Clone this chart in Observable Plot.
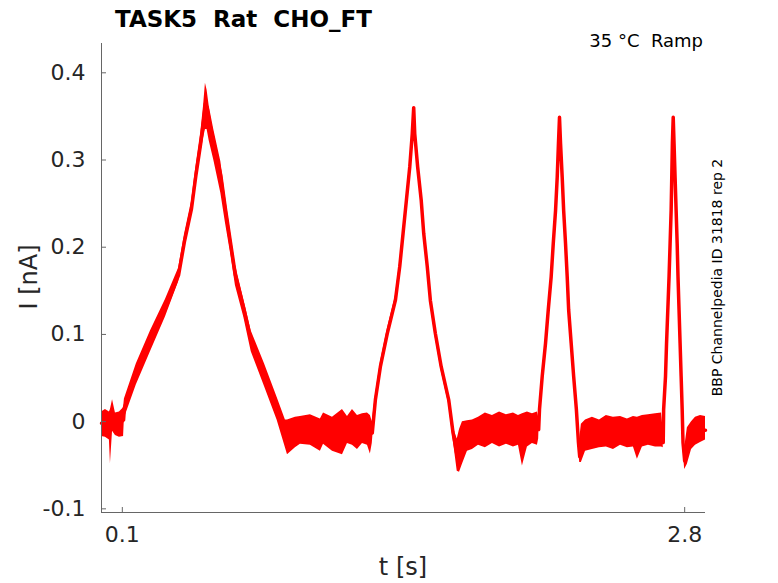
<!DOCTYPE html>
<html>
<head>
<meta charset="utf-8">
<script src="https://cdn.jsdelivr.net/npm/d3@7"></script>
<script src="https://cdn.jsdelivr.net/npm/@observablehq/plot@0.6"></script>
<style>
  html, body { margin: 0; padding: 0; background: #fff; }
  #chart svg { display: block; }
</style>
</head>
<body>
<div id="chart"></div>
<script>
// ---- data (time in s, current in nA) ----
const tSec = [
  0.000, 0.019, 0.038, 0.043, 0.053, 0.067, 0.086, 0.106,
  0.110, 0.167, 0.235, 0.307, 0.370, 0.398, 0.432, 0.453, 0.477, 0.490, 0.499, 0.507, 0.517,
  0.539, 0.573, 0.595, 0.619, 0.643, 0.683, 0.719, 0.783, 0.843, 0.883,
  0.893, 0.931, 0.955, 1.003, 1.051, 1.066, 1.109, 1.157, 1.181, 1.205, 1.229, 1.253, 1.277, 1.291,
  1.300, 1.315, 1.339, 1.372, 1.411, 1.432, 1.448, 1.464, 1.480, 1.492, 1.499, 1.504, 1.518, 1.535, 1.547, 1.564, 1.579, 1.603, 1.631, 1.667, 1.688, 1.708,
  1.719, 1.733, 1.757, 1.781, 1.810, 1.843, 1.877, 1.911, 1.944, 1.978, 2.002, 2.021, 2.045, 2.069, 2.093,
  2.099, 2.103, 2.116, 2.132, 2.145, 2.159, 2.169, 2.180, 2.188, 2.194, 2.199, 2.204, 2.212, 2.219, 2.228, 2.236, 2.243, 2.255, 2.267, 2.280, 2.290, 2.296,
  2.304, 2.324, 2.357, 2.391, 2.424, 2.458, 2.492, 2.525, 2.554, 2.573, 2.597, 2.626, 2.660, 2.689,
  2.697, 2.699, 2.708, 2.713, 2.719, 2.725, 2.730, 2.735, 2.738, 2.741, 2.745, 2.749, 2.754, 2.759, 2.764, 2.768, 2.773, 2.778, 2.783, 2.788, 2.792, 2.800,
  2.813, 2.833, 2.852, 2.876, 2.900
];
const iMid = [
  -0.002, -0.002, -0.003, -0.007, 0.005, -0.002, -0.002, 0.002,
  0.016, 0.054, 0.092, 0.130, 0.168, 0.206, 0.244, 0.282, 0.320, 0.345, 0.365, 0.360, 0.345,
  0.320, 0.282, 0.244, 0.206, 0.168, 0.130, 0.092, 0.054, 0.016, -0.015,
  -0.015, -0.011, -0.011, -0.011, -0.011, -0.010, -0.010, -0.010, -0.010, -0.009, -0.009, -0.009, -0.008, -0.009,
  -0.013, 0.025, 0.063, 0.101, 0.139, 0.178, 0.216, 0.254, 0.292, 0.330, 0.360, 0.330, 0.292, 0.254, 0.216, 0.178, 0.139, 0.101, 0.063, 0.025, -0.013, -0.040,
  -0.030, -0.022, -0.016, -0.014, -0.012, -0.011, -0.011, -0.010, -0.010, -0.009, -0.009, -0.010, -0.008, -0.008, -0.008,
  -0.009, 0.014, 0.052, 0.090, 0.128, 0.166, 0.204, 0.242, 0.280, 0.319, 0.349, 0.319, 0.280, 0.242, 0.204, 0.166, 0.128, 0.090, 0.052, 0.014, -0.024, -0.040,
  -0.020, -0.016, -0.015, -0.014, -0.013, -0.013, -0.012, -0.012, -0.012, -0.012, -0.011, -0.010, -0.010, -0.010,
  -0.024, 0.014, 0.052, 0.090, 0.128, 0.166, 0.204, 0.242, 0.280, 0.319, 0.349, 0.319, 0.280, 0.242, 0.204, 0.166, 0.128, 0.090, 0.052, 0.014, -0.024, -0.045,
  -0.030, -0.020, -0.015, -0.010, -0.010
];
const iLow = [
  -0.017, -0.018, -0.021, -0.048, -0.011, -0.016, -0.018, -0.017,
  0.004, 0.042, 0.080, 0.120, 0.160, 0.198, 0.236, 0.272, 0.308, 0.325, 0.335, 0.335, 0.322,
  0.300, 0.262, 0.228, 0.194, 0.156, 0.120, 0.080, 0.040, 0.002, -0.030,
  -0.038, -0.030, -0.026, -0.027, -0.034, -0.026, -0.034, -0.038, -0.025, -0.027, -0.032, -0.025, -0.027, -0.037,
  -0.025, 0.020, 0.058, 0.096, 0.134, 0.173, 0.211, 0.249, 0.287, 0.325, 0.350, 0.325, 0.287, 0.249, 0.211, 0.173, 0.134, 0.096, 0.058, 0.020, -0.020, -0.057,
  -0.058, -0.049, -0.034, -0.032, -0.027, -0.030, -0.025, -0.029, -0.026, -0.029, -0.027, -0.051, -0.029, -0.025, -0.027,
  -0.020, 0.009, 0.047, 0.085, 0.123, 0.161, 0.199, 0.237, 0.275, 0.314, 0.340, 0.314, 0.275, 0.237, 0.199, 0.161, 0.123, 0.085, 0.047, 0.009, -0.030, -0.047,
  -0.047, -0.034, -0.032, -0.030, -0.029, -0.032, -0.027, -0.030, -0.029, -0.043, -0.029, -0.027, -0.029, -0.029,
  -0.030, 0.009, 0.047, 0.085, 0.123, 0.161, 0.199, 0.237, 0.275, 0.314, 0.340, 0.314, 0.275, 0.237, 0.199, 0.161, 0.123, 0.085, 0.047, 0.009, -0.030, -0.055,
  -0.049, -0.032, -0.027, -0.024, -0.021
];
const iHigh = [
  0.011, 0.014, 0.011, 0.014, 0.025, 0.010, 0.011, 0.016,
  0.026, 0.066, 0.104, 0.140, 0.176, 0.214, 0.252, 0.292, 0.332, 0.362, 0.388, 0.380, 0.362,
  0.335, 0.298, 0.258, 0.218, 0.180, 0.140, 0.104, 0.066, 0.028, 0.002,
  0.002, 0.005, 0.006, 0.008, 0.003, 0.010, 0.005, 0.014, 0.006, 0.014, 0.007, 0.009, 0.010, 0.007,
  0.000, 0.030, 0.068, 0.106, 0.144, 0.183, 0.221, 0.259, 0.297, 0.335, 0.362, 0.335, 0.297, 0.259, 0.221, 0.183, 0.144, 0.106, 0.068, 0.030, -0.006, -0.020,
  -0.009, 0.000, 0.001, 0.002, 0.005, 0.010, 0.007, 0.011, 0.008, 0.010, 0.007, 0.009, 0.011, 0.009, 0.011,
  0.005, 0.019, 0.057, 0.095, 0.133, 0.171, 0.209, 0.247, 0.285, 0.324, 0.350, 0.324, 0.285, 0.247, 0.209, 0.171, 0.133, 0.095, 0.057, 0.019, -0.018, -0.020,
  -0.003, 0.002, 0.005, 0.002, 0.007, 0.005, 0.006, 0.003, 0.006, 0.005, 0.007, 0.008, 0.009, 0.010,
  -0.010, 0.019, 0.057, 0.095, 0.133, 0.171, 0.209, 0.247, 0.285, 0.324, 0.350, 0.324, 0.285, 0.247, 0.209, 0.171, 0.133, 0.095, 0.057, 0.019, -0.018, -0.030,
  -0.007, 0.000, 0.005, 0.007, 0.006
];
const xTicks = [0.1, 2.8];
const yTicks = [-0.1, 0, 0.1, 0.2, 0.3, 0.4];
const xDomain = [0, 2.9];
const yDomain = [-0.1042, 0.4336];

const titleText = "TASK5  Rat  CHO_FT";
const condText = "35 °C  Ramp";
const sideText = "BBP Channelpedia ID 31818 rep 2";
const xLabel = "t [s]";
const yLabel = "I [nA]";

const rows = tSec.map((t, k) => ({t, mid: iMid[k], lo: iLow[k], hi: iHigh[k]}));

const RED = "#ff0000";
const AXIS = "#666666";
const TXT = "#262626";
const fmt = d => String(d);

const chart = Plot.plot({
  width: 778,
  height: 583,
  marginLeft: 101,
  marginRight: 73,
  marginTop: 43,
  marginBottom: 71,
  style: {fontFamily: "DejaVu Sans", background: "#fff", overflow: "visible"},
  x: {domain: xDomain},
  y: {domain: yDomain},
  marks: [
    Plot.areaY(rows, {x: "t", y1: "lo", y2: "hi", fill: RED, curve: "linear"}),
    Plot.lineY(rows, {x: "t", y: "mid", stroke: RED, strokeWidth: 3.5, curve: "linear"}),
    Plot.ruleX([xDomain[0]], {stroke: AXIS, strokeWidth: 1}),
    Plot.ruleY([yDomain[0]], {stroke: AXIS, strokeWidth: 1}),
    Plot.axisY(yTicks, {tickSize: 0, tickPadding: 16, tickFormat: fmt, fontSize: 22, color: TXT, label: null}),
    Plot.axisY(yTicks, {tickSize: 5, dx: 5, tickFormat: () => "", stroke: AXIS, label: null}),
    Plot.axisX(xTicks, {tickSize: 0, tickPadding: 14, tickFormat: fmt, fontSize: 22, color: TXT, label: null}),
    Plot.axisX(xTicks, {tickSize: 5, dy: -5, tickFormat: () => "", stroke: AXIS, label: null})
  ]
});
document.getElementById("chart").appendChild(chart);

const svg = d3.select(chart);
svg.append("text").attr("x", 115).attr("y", 27).attr("text-anchor", "start")
  .attr("font-family", "DejaVu Sans").attr("font-weight", "bold").attr("font-size", 23)
  .attr("fill", "#000").style("white-space", "pre").text(titleText);
svg.append("text").attr("x", 703).attr("y", 47).attr("text-anchor", "end")
  .attr("font-family", "DejaVu Sans").attr("font-size", 18)
  .attr("fill", "#000").style("white-space", "pre").text(condText);
svg.append("text").attr("transform", "translate(722,277.5) rotate(-90)").attr("text-anchor", "middle")
  .attr("font-family", "DejaVu Sans").attr("font-size", 14)
  .attr("fill", "#000").text(sideText);
svg.append("text").attr("transform", "translate(37,277) rotate(-90)").attr("text-anchor", "middle")
  .attr("font-family", "DejaVu Sans").attr("font-size", 24)
  .attr("fill", TXT).text(yLabel);
svg.append("text").attr("x", 403).attr("y", 575).attr("text-anchor", "middle")
  .attr("font-family", "DejaVu Sans").attr("font-size", 24)
  .attr("fill", TXT).text(xLabel);
</script>
</body>
</html>
